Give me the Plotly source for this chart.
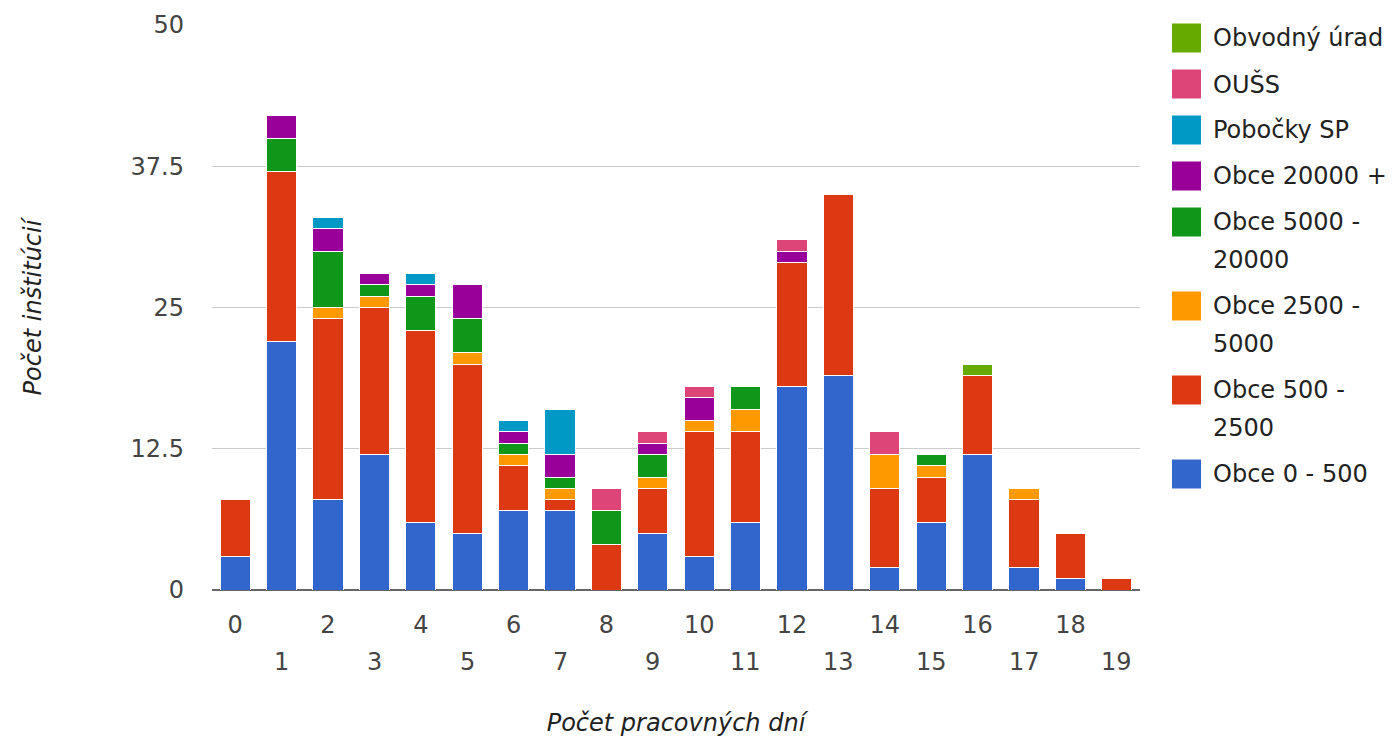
import plotly.graph_objects as go

days = list(range(20))
even_days = [d for d in days if d % 2 == 0]
odd_days = [d for d in days if d % 2 == 1]

series_names = [
    "Obce 0 - 500",
    "Obce 500 - 2500",
    "Obce 2500 - 5000",
    "Obce 5000 - 20000",
    "Obce 20000 +",
    "Pobočky SP",
    "OUŠS",
    "Obvodný úrad",
]
# legend text lines (wrapped as in the original)
legend_lines = [
    ["Obce 0 - 500"],
    ["Obce 500 -", "2500"],
    ["Obce 2500 -", "5000"],
    ["Obce 5000 -", "20000"],
    ["Obce 20000 +"],
    ["Pobočky SP"],
    ["OUŠS"],
    ["Obvodný úrad"],
]

obce_0_500 =      [3, 22, 8, 12, 6, 5, 7, 7, 0, 5, 3, 6, 18, 19, 2, 6, 12, 2, 1, 0]
obce_500_2500 =   [5, 15, 16, 13, 17, 15, 4, 1, 4, 4, 11, 8, 11, 16, 7, 4, 7, 6, 4, 1]
obce_2500_5000 =  [0, 0, 1, 1, 0, 1, 1, 1, 0, 1, 1, 2, 0, 0, 3, 1, 0, 1, 0, 0]
obce_5000_20000 = [0, 3, 5, 1, 3, 3, 1, 1, 3, 2, 0, 2, 0, 0, 0, 1, 0, 0, 0, 0]
obce_20000 =      [0, 2, 2, 1, 1, 3, 1, 2, 0, 1, 2, 0, 1, 0, 0, 0, 0, 0, 0, 0]
pobocky_sp =      [0, 0, 1, 0, 1, 0, 1, 4, 0, 0, 0, 0, 0, 0, 0, 0, 0, 0, 0, 0]
ouss =            [0, 0, 0, 0, 0, 0, 0, 0, 2, 1, 1, 0, 1, 0, 2, 0, 0, 0, 0, 0]
obvodny_urad =    [0, 0, 0, 0, 0, 0, 0, 0, 0, 0, 0, 0, 0, 0, 0, 0, 1, 0, 0, 0]

series_values = [obce_0_500, obce_500_2500, obce_2500_5000, obce_5000_20000,
                 obce_20000, pobocky_sp, ouss, obvodny_urad]
colors = ["#3366cc", "#dc3912", "#ff9900", "#109618", "#990099", "#0099c6", "#dd4477", "#66aa00"]

y_ticks = [0, 12.5, 25, 37.5, 50]
y_tick_labels = ["0", "12.5", "25", "37.5", "50"]

W, H = 1395, 738
ML, MR, MT, MB = 212, 255, 25, 148
font_family = "DejaVu Sans, Liberation Sans, Arial, sans-serif"

fig = go.Figure()
for name, vals, col in zip(series_names, series_values, colors):
    fig.add_trace(go.Bar(
        x=days, y=vals, name=name, showlegend=False,
        marker=dict(color=col, line=dict(color="white", width=1)),
    ))

plot_w = W - ML - MR
plot_h = H - MT - MB
def px_x(x):
    return (x - ML) / plot_w
def px_y(y):
    return 1 - (y - MT) / plot_h

shapes = []
annotations = []

# custom legend (top to bottom: reversed series order)
y_cursor = 38
for idx in reversed(range(len(series_names))):
    col = colors[idx]
    lines = legend_lines[idx]
    shapes.append(dict(
        type="rect", xref="paper", yref="paper",
        x0=px_x(1172), x1=px_x(1201), y0=px_y(y_cursor - 14.5), y1=px_y(y_cursor + 14.5),
        fillcolor=col, line=dict(width=0),
    ))
    for li, txt in enumerate(lines):
        annotations.append(dict(
            xref="paper", yref="paper", x=px_x(1211), y=px_y(y_cursor + li * 38),
            xanchor="left", yanchor="middle", text=txt, showarrow=False,
            font=dict(family=font_family, size=24, color="#222222"),
        ))
    y_cursor += 46 + 38 * (len(lines) - 1)

# second (staggered) row of x tick labels for odd days
for d in odd_days:
    annotations.append(dict(
        xref="x", yref="paper", x=d, y=px_y(662),
        xanchor="center", yanchor="middle", text=str(d), showarrow=False,
        font=dict(family=font_family, size=24, color="#444444"),
    ))

fig.update_layout(
    barmode="stack",
    bargap=0.35,
    width=W, height=H,
    margin=dict(l=ML, r=MR, t=MT, b=MB, autoexpand=False),
    plot_bgcolor="white", paper_bgcolor="white",
    font=dict(family=font_family, size=24, color="#444444"),
    showlegend=False,
    shapes=shapes,
    annotations=annotations,
    xaxis=dict(
        tickmode="array", tickvals=even_days, ticktext=[str(d) for d in even_days],
        showgrid=False, ticks="", range=[-0.5, 19.5], ticklabelstandoff=18,
        title=dict(text="<i>Počet pracovných dní</i>", font=dict(size=24, color="#222222"), standoff=76),
        tickfont=dict(size=24, color="#444444"),
        automargin=False,
    ),
    yaxis=dict(
        range=[0, 50], tickvals=y_ticks, ticktext=y_tick_labels,
        showgrid=True, gridcolor="#cccccc", gridwidth=1,
        zeroline=True, zerolinecolor="#666666", zerolinewidth=2,
        ticks="", ticklabelstandoff=27,
        title=dict(text="<i>Počet inštitúcií</i>", font=dict(size=24, color="#222222"), standoff=82),
        tickfont=dict(size=24, color="#444444"),
        automargin=False,
    ),
)

fig.write_html(
    "out.html",
    config={"displayModeBar": False},
    post_script="document.body.style.margin='0';document.body.style.overflow='hidden';",
)
